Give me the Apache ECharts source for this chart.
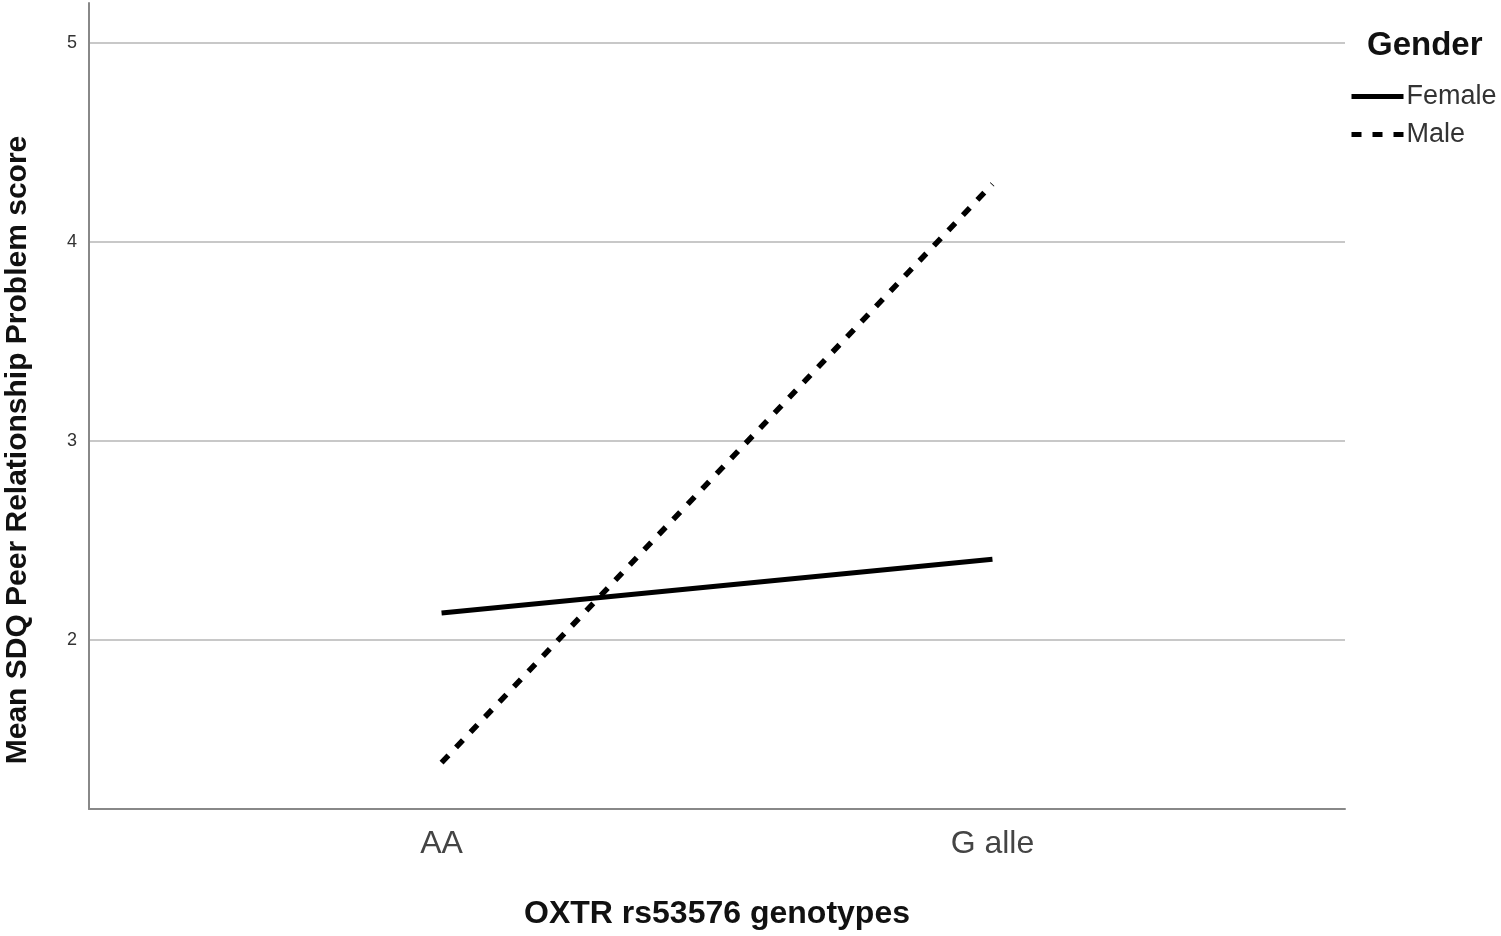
<!DOCTYPE html>
<html>
<head>
    <meta charset="utf-8">
    <title>OXTR rs53576 x Gender</title>
    <script src="https://cdn.jsdelivr.net/npm/echarts@6/dist/echarts.min.js"></script>
    <style>
        html, body { height: 100%; margin: 0; padding: 0; background: #fff; }
    </style>
</head>
<body>
<div id="chart-box" style="width:1501px; height:936px;"></div>
<script type="text/javascript">
    const genotypes = ["AA", "G alle"];
    const femaleMeans = [2.135, 2.405];
    const maleMeans = [1.383, 4.29];
    const yTicks = [2, 3, 4, 5];

    const chart = echarts.init(document.getElementById("chart-box"));
    const font = "Liberation Sans, Arial, sans-serif";

    const toPoints = vals => vals.map((v, i) => [i, v]);

    const option = {
        animation: false,
        textStyle: { fontFamily: font },
        title: {
            text: "Gender",
            left: 1362,
            top: 24,
            textStyle: { fontSize: 33, fontWeight: "bold", color: "#111", fontFamily: font }
        },
        legend: {
            orient: "vertical",
            left: 1344,
            top: 78,
            itemWidth: 52,
            itemHeight: 14,
            itemGap: 11,
            itemStyle: { opacity: 0 },
            lineStyle: { width: 5 },
            textStyle: { fontSize: 27, color: "#333", fontFamily: font, padding: [0, 0, 0, -2] },
            data: ["Female", "Male"]
        },
        grid: { left: 89, right: 156, top: 3, bottom: 127, outerBoundsMode: "none" },
        xAxis: {
            type: "value",
            min: -0.64,
            max: 1.64,
            name: "OXTR rs53576 genotypes",
            nameLocation: "middle",
            nameGap: 89,
            nameTextStyle: { fontSize: 32, fontWeight: "bold", color: "#111", fontFamily: font },
            axisLine: { show: true, onZero: false, lineStyle: { color: "#888", width: 2 } },
            axisTick: { show: false, customValues: [0, 1] },
            splitLine: { show: false },
            axisLabel: {
                customValues: [0, 1],
                formatter: v => genotypes[Math.round(v)],
                fontSize: 32,
                color: "#444",
                margin: 19,
                fontFamily: font
            }
        },
        yAxis: {
            type: "value",
            min: 1.15,
            max: 5.2,
            axisLine: { show: true, onZero: false, lineStyle: { color: "#888", width: 2 } },
            axisTick: { show: false, customValues: yTicks },
            axisLabel: { customValues: yTicks, fontSize: 18, color: "#333", margin: 12, fontFamily: font },
            splitLine: { show: true, lineStyle: { color: "#c8c8c8", width: 2 } }
        },
        graphic: [{
            type: "text",
            x: 18,
            y: 450,
            rotation: Math.PI / 2,
            style: {
                text: "Mean SDQ Peer Relationship Problem score",
                fontSize: 30,
                fontWeight: "bold",
                fill: "#111",
                fontFamily: font,
                align: "center",
                verticalAlign: "middle"
            }
        }],
        series: [
            {
                name: "Female",
                type: "line",
                symbol: "none",
                data: toPoints(femaleMeans),
                itemStyle: { color: "#000" },
                lineStyle: { color: "#000", width: 5, type: "solid" }
            },
            {
                name: "Male",
                type: "line",
                symbol: "none",
                data: toPoints(maleMeans),
                itemStyle: { color: "#000" },
                lineStyle: { color: "#000", width: 5.5, type: [10, 11] }
            }
        ]
    };
    chart.setOption(option);
</script>
</body>
</html>
